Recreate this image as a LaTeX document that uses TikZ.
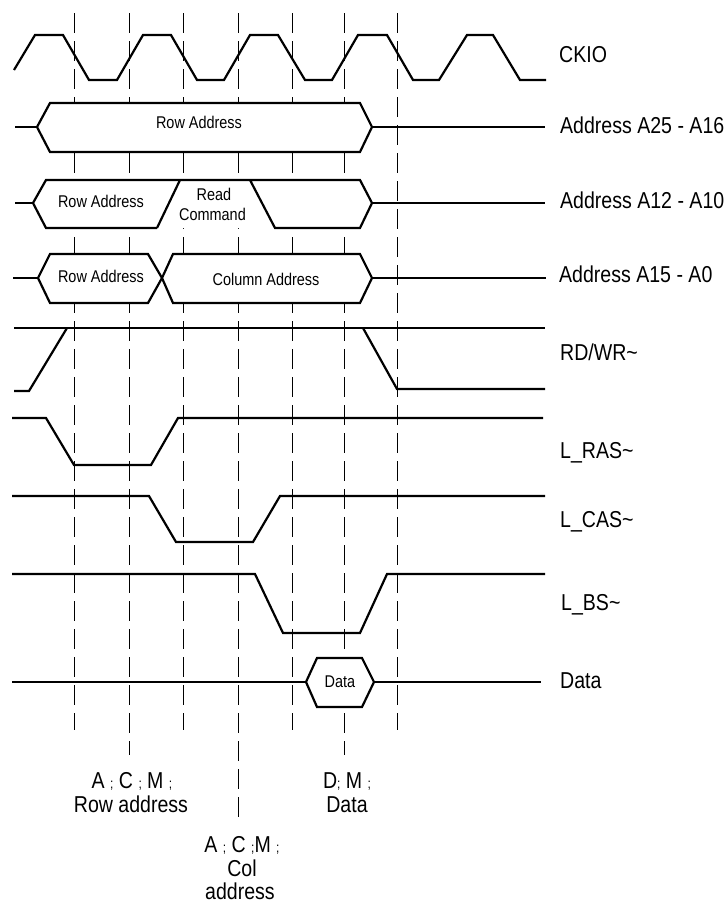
\documentclass[tikz,border=0pt]{standalone}
\usepackage{fontspec}
\setmainfont{Liberation Sans}[FakeStretch=0.85]
\newcommand{\smsc}{{\fontsize{14}{14}\selectfont;}}
\begin{document}
\begin{tikzpicture}[x=1pt,y=-1pt,
  sig/.style={line width=2.2pt},
  gridline/.style={line width=1pt, dash pattern=on 20pt off 8pt},
  lbl/.style={font=\fontsize{23}{25}\selectfont, anchor=base west, inner sep=0pt},
  boxtxt/.style={font=\fontsize{17}{19}\selectfont, anchor=base, inner sep=0pt},
  bot/.style={font=\fontsize{23}{25}\selectfont, anchor=base, inner sep=0pt}]
\useasboundingbox (0,0) rectangle (728,905);

% vertical dashed reference lines
\foreach \x/\e in {74/730,129/755,183/730,238/820,292/730,344/755,397/730}
  \draw[gridline] (\x,13) -- (\x,\e);

% CKIO
\draw[sig] (14,70) -- (35,35) -- (63,35) -- (89,80) -- (117,80) -- (143,35) -- (171,35)
  -- (197,80) -- (224,80) -- (250,35) -- (278,35) -- (305,80) -- (332,80) -- (358,35)
  -- (387,35) -- (413,80) -- (439,80) -- (467,35) -- (493,35) -- (520,80) -- (546,80);

% Address A25 - A16
\draw[sig] (15,127) -- (37,127);
\draw[sig, fill=white] (37,127) -- (50,103) -- (360,103) -- (372,127) -- (360,152) -- (50,152) -- cycle;
\draw[sig] (372,127) -- (545,127);
\node[boxtxt] (ra1) at (199,128) {Row Address};

% Address A12 - A10
\fill[white] (33,203) -- (46,180) -- (360,180) -- (372,203) -- (360,228) -- (46,228) -- cycle;
\draw[sig] (15,203) -- (33,203);
\draw[sig] (157,228) -- (46,228) -- (33,203) -- (46,180) -- (360,180) -- (372,203)
  -- (360,228) -- (275,228) -- (250,180);
\draw[sig] (157,228) -- (180,180);
\draw[sig] (372,203) -- (545,203);
\node[boxtxt] (ra2) at (101,207) {Row Address};
\node[boxtxt] (rd) at (214,200) {Read};
\node[boxtxt] (cmd) at (212.5,220) {Command};

% Address A15 - A0
\draw[sig] (13,278) -- (38,278);
\draw[sig, fill=white] (38,278) -- (50,254) -- (148,254) -- (162,278) -- (148,303) -- (50,303) -- cycle;
\draw[sig, fill=white] (162,278) -- (173,254) -- (360,254) -- (372,278) -- (360,303) -- (173,303) -- cycle;
\draw[sig] (372,278) -- (546,278);
\node[boxtxt] (ra3) at (101,282) {Row Address};
\node[boxtxt] (ca) at (266,285) {Column Address};

% RD/WR~
\draw[sig] (14,328) -- (545,328);
\draw[sig] (14,391) -- (29,391) -- (67,328);
\draw[sig] (363,328) -- (397,389) -- (545,389);

% L_RAS~
\draw[sig] (12,418) -- (46,418) -- (74,465) -- (151,465) -- (178,418) -- (543,418);
% L_CAS~
\draw[sig] (12,496) -- (149,496) -- (176,542) -- (253,542) -- (280,496) -- (545,496);
% L_BS~
\draw[sig] (12,574) -- (255,574) -- (283,633) -- (360,633) -- (387,574) -- (545,574);

% Data
\draw[sig] (12,682) -- (306,682);
\draw[sig, fill=white] (306,682) -- (317,658) -- (362,658) -- (374,682) -- (362,707) -- (317,707) -- cycle;
\draw[sig] (374,682) -- (541,682);
\node[boxtxt] (dt) at (340,687) {Data};

% signal names
\node[lbl] (l1) at (559,62) {CKIO};
\node[lbl] (l2) at (560,133) {Address A25 - A16};
\node[lbl] (l3) at (560,208) {Address A12 - A10};
\node[lbl] (l4) at (559,282) {Address A15 - A0};
\node[lbl] (l5) at (560,360) {RD/WR\textasciitilde};
\node[lbl] (l6) at (560,458) {L\_RAS\textasciitilde};
\node[lbl] (l7) at (560,527) {L\_CAS\textasciitilde};
\node[lbl] (l8) at (561,610) {L\_BS\textasciitilde};
\node[lbl] (l9) at (560,688) {Data};

% bottom annotations
\node[bot] (b1a) at (132,788) {A \smsc{} C \smsc{} M \smsc};
\node[bot] (b1b) at (131,812) {Row address};
\node[bot] (b2a) at (347,788) {D\smsc{} M \smsc};
\node[bot] (b2b) at (347,812) {Data};
\node[bot] (b3a) at (242,852) {A \smsc{} C \smsc M \smsc};
\node[bot] (b3b) at (242,876) {Col};
\node[bot] (b3c) at (240,899) {address};
\end{tikzpicture}
\end{document}
